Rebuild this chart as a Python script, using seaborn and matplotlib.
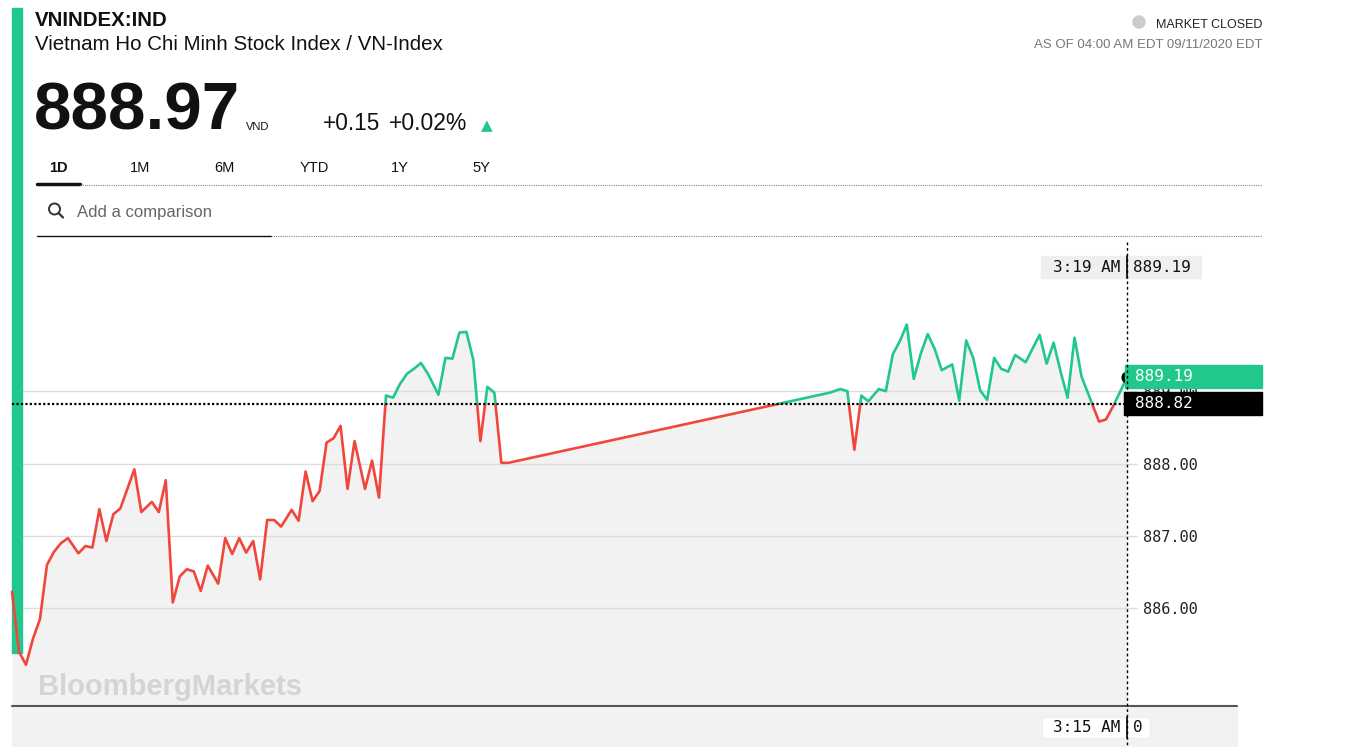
import numpy as np
import pandas as pd
import matplotlib.pyplot as plt
import seaborn as sns
from matplotlib.patches import Rectangle, Ellipse
from matplotlib.lines import Line2D

# intraday VN-Index, 11 Sep 2020 (local Ho Chi Minh time)
morning_times = [
    "09:00", "09:02", "09:04", "09:06", "09:08", "09:10", "09:12", "09:14", "09:16", "09:19",
    "09:21", "09:23", "09:25", "09:27", "09:29", "09:31", "09:35", "09:37", "09:40", "09:42",
    "09:44", "09:46", "09:48", "09:50", "09:52", "09:54", "09:56", "09:59", "10:01", "10:03",
    "10:05", "10:07", "10:09", "10:11", "10:13", "10:15", "10:17", "10:20", "10:22", "10:24",
    "10:26", "10:28", "10:30", "10:32", "10:34", "10:36", "10:38", "10:41", "10:43", "10:45",
    "10:47", "10:49", "10:51", "10:53", "10:55", "10:57", "10:59", "11:02", "11:04", "11:06",
    "11:08", "11:10", "11:12", "11:14", "11:16", "11:18", "11:20", "11:22",
]
morning_prices = [
    886.23, 885.40, 885.22, 885.58, 885.85, 886.60, 886.78, 886.90, 886.97, 886.76,
    886.86, 886.84, 887.37, 886.93, 887.30, 887.38, 887.92, 887.33, 887.47, 887.33,
    887.77, 886.08, 886.44, 886.54, 886.51, 886.24, 886.59, 886.34, 886.97, 886.75,
    886.97, 886.77, 886.93, 886.40, 887.22, 887.22, 887.13, 887.36, 887.21, 887.89,
    887.48, 887.62, 888.29, 888.35, 888.52, 887.65, 888.31, 887.65, 888.04, 887.53,
    888.94, 888.91, 889.10, 889.24, 889.31, 889.39, 889.24, 888.95, 889.46, 889.45,
    889.81, 889.82, 889.43, 888.31, 889.06, 888.98, 888.01, 888.01,
]
afternoon_times = [
    "12:54", "12:57", "12:59", "13:01", "13:03", "13:05", "13:08", "13:10", "13:12", "13:14",
    "13:16", "13:18", "13:20", "13:22", "13:24", "13:26", "13:29", "13:31", "13:33", "13:35",
    "13:37", "13:39", "13:41", "13:43", "13:45", "13:47", "13:50", "13:52", "13:54", "13:56",
    "13:58", "14:00", "14:02", "14:04", "14:06", "14:11", "14:13", "14:15", "14:19",
]
afternoon_prices = [
    888.98, 889.03, 889.00, 888.19, 888.94, 888.86, 889.03, 889.00, 889.51, 889.69,
    889.92, 889.17, 889.52, 889.79, 889.58, 889.29, 889.37, 888.87, 889.70, 889.46,
    889.01, 888.88, 889.46, 889.31, 889.27, 889.50, 889.40, 889.59, 889.78, 889.38,
    889.67, 889.27, 888.91, 889.74, 889.20, 888.58, 888.61, 888.79, 889.19,
]

prev_close = 888.82
last_price = 888.97
change = 0.15
change_pct = 0.02
y_ticks = [886, 887, 888, 889]
tabs = ["1D", "1M", "6M", "YTD", "1Y", "5Y"]

GREEN = "#21c88c"
RED = "#f0463b"
FILL = "#f2f2f2"
W, H = 1367, 747


def fx(x):
    return x / W


def fy(y):
    return 1 - y / H


def dot(x, y, r, **kw):
    # round dot in pixel units on the figure
    return Ellipse((fx(x), fy(y)), 2 * r / W, 2 * r / H, transform=fig.transFigure, **kw)


df = pd.DataFrame({
    "time": pd.to_datetime("2020-09-11 " + pd.Series(morning_times + afternoon_times)),
    "price": morning_prices + afternoon_prices,
})
df["minute"] = (df["time"] - df["time"].iloc[0]).dt.total_seconds() / 60

sns.set_style("white")
plt.rcParams["font.family"] = ["Liberation Sans", "DejaVu Sans"]

fig = plt.figure(figsize=(W / 100, H / 100), dpi=100)
ax = fig.add_axes([fx(12), fy(706), fx(1127) - fx(12), fy(245) - fy(706)])
x0, x1 = df["minute"].min(), df["minute"].max()
ymin, ymax = 884.65, 891.02
ax.set_xlim(x0, x1)
ax.set_ylim(ymin, ymax)

# area under the line
ax.fill_between(df["minute"], df["price"], ymin, color=FILL, lw=0, zorder=0.3)

# price line: green above previous close, red below
sns.lineplot(data=df, x="minute", y="price", color=GREEN, lw=1.9, ax=ax, zorder=2)
ax.lines[-1].set_clip_path(Rectangle((x0 - 10, prev_close), x1 - x0 + 20, 50, transform=ax.transData))
sns.lineplot(data=df, x="minute", y="price", color=RED, lw=1.9, ax=ax, zorder=2)
ax.lines[-1].set_clip_path(Rectangle((x0 - 10, prev_close - 50), x1 - x0 + 20, 50, transform=ax.transData))

ax.axhline(prev_close, color="black", lw=1.6, ls=(0, (1, 1)), zorder=2.5)
ax.scatter(df["minute"].iloc[-1], df["price"].iloc[-1], s=60, color="black", zorder=3, clip_on=False)

# left accent bar
ax.add_patch(Rectangle((fx(12), fy(653)), fx(10), fy(8) - fy(653), transform=fig.transFigure,
                       color=GREEN, clip_on=False, zorder=0.6))

ax.set_axisbelow(True)
ax.grid(axis="y", color="#dddddd", lw=1)
ax.grid(axis="x", visible=False)
ax.set_yticks(y_ticks)
ax.set_yticklabels([f"{v:.2f}" for v in y_ticks], family="DejaVu Sans Mono", fontsize=11, color="#222")
ax.yaxis.tick_right()
ax.tick_params(axis="y", length=7.5, color="#dddddd", width=1, pad=4)
ax.set_xticks([])
ax.set_xlabel("")
ax.set_ylabel("")
for s in ax.spines.values():
    s.set_visible(False)

# bottom strip and axis line
fig.patches.append(Rectangle((fx(12), fy(747)), fx(1237) - fx(12), fy(706) - fy(747),
                             transform=fig.transFigure, color=FILL, zorder=0.1))
fig.add_artist(Line2D([fx(12), fx(1237)], [fy(706), fy(706)], color="#555555", lw=1.5))
# crosshair
fig.add_artist(Line2D([fx(1127), fx(1127)], [fy(242), fy(747)], color="black", lw=1, ls=(0, (2, 2)), zorder=4))

# header
fig.text(fx(35), fy(26.5), "VNINDEX:IND", fontsize=14.7, fontweight="bold", color="#111", va="baseline")
fig.text(fx(35), fy(50), "Vietnam Ho Chi Minh Stock Index / VN-Index", fontsize=14.8, color="#111", va="baseline")
fig.text(fx(34), fy(129.5), f"{last_price:.2f}", fontsize=48.5, fontweight="bold", color="#111", va="baseline")
fig.text(fx(246), fy(129.5), "VND", fontsize=8, color="#111", va="baseline")
fig.text(fx(323), fy(130), f"+{change:.2f}", fontsize=16.3, color="#111", va="baseline")
fig.text(fx(389), fy(130), f"+{change_pct:.2f}%", fontsize=16.5, color="#111", va="baseline")
fig.text(fx(481), fy(130), "\u25b2", fontsize=11, color=GREEN, va="baseline", family="DejaVu Sans")

tab_x = [58, 140, 224, 314, 400, 481]
for label, x in zip(tabs, tab_x):
    fig.text(fx(x), fy(171.5), label, fontsize=10.5, ha="center", va="baseline", color="#111",
             fontweight="bold" if label == "1D" else "normal")
fig.add_artist(Line2D([fx(37), fx(80)], [fy(184), fy(184)], color="#111", lw=2.5))
fig.add_artist(Line2D([fx(80), fx(1262)], [fy(185), fy(185)], color="#888", lw=0.8, ls=(0, (1, 1))))

# search glass
fig.add_artist(dot(54.5, 209, 5.5, fill=False, edgecolor="#333", lw=1.4))
fig.add_artist(Line2D([fx(58.5), fx(63)], [fy(213), fy(217.5)], color="#333", lw=1.6))
fig.text(fx(77), fy(216.5), "Add a comparison", fontsize=12, color="#666", va="baseline")
fig.add_artist(Line2D([fx(37), fx(271)], [fy(236), fy(236)], color="#111", lw=1))
fig.add_artist(Line2D([fx(271), fx(1262)], [fy(236), fy(236)], color="#888", lw=0.8, ls=(0, (1, 1))))

fig.add_artist(dot(1139, 22, 6, color="#cccccc"))
fig.text(fx(1262), fy(27.5), "MARKET CLOSED", fontsize=9, color="#222", ha="right", va="baseline")
fig.text(fx(1262), fy(48), "AS OF 04:00 AM EDT 09/11/2020 EDT", fontsize=9.5, color="#777",
         ha="right", va="baseline")

fig.text(fx(38), fy(695), "BloombergMarkets", fontsize=21, fontweight="bold", color="#d4d4d4", va="baseline")

# crosshair readouts
mono = "DejaVu Sans Mono"
fig.patches.append(Rectangle((fx(1041), fy(278)), fx(160), fy(256) - fy(278), transform=fig.transFigure,
                             color="#efefef", zorder=3))
fig.add_artist(Line2D([fx(1127), fx(1127)], [fy(256), fy(278)], color="black", lw=1.2, zorder=4))
fig.text(fx(1120), fy(267), "3:19 AM", family=mono, fontsize=11.5, color="#111", ha="right", va="center", zorder=5)
fig.text(fx(1133), fy(267), f"{df['price'].iloc[-1]:.2f}", family=mono, fontsize=11.5, color="#111",
         va="center", zorder=5)

fig.patches.append(Rectangle((fx(1042), fy(738)), fx(108), fy(717) - fy(738), transform=fig.transFigure,
                             facecolor="white", edgecolor="#eeeeee", lw=1, zorder=3))
fig.add_artist(Line2D([fx(1127), fx(1127)], [fy(717), fy(738)], color="black", lw=1.2, zorder=4))
fig.text(fx(1120), fy(727.5), "3:15 AM", family=mono, fontsize=11.5, color="#111", ha="right", va="center", zorder=5)
fig.text(fx(1133), fy(727.5), "0", family=mono, fontsize=11.5, color="#111", va="center", zorder=5)

# last price and previous close tags
fig.patches.append(Rectangle((fx(1125), fy(388)), fx(137), fy(365) - fy(388), transform=fig.transFigure,
                             color=GREEN, zorder=3))
fig.text(fx(1135), fy(377), f"{df['price'].iloc[-1]:.2f}", family=mono, fontsize=11.5, color="white",
         va="center", zorder=5)
fig.patches.append(Rectangle((fx(1124), fy(415)), fx(138), fy(392) - fy(415), transform=fig.transFigure,
                             color="black", zorder=3))
fig.text(fx(1135), fy(403.5), f"{prev_close:.2f}", family=mono, fontsize=11.5, color="white",
         va="center", zorder=5)

fig.savefig("out.png", dpi=100, facecolor="white")
